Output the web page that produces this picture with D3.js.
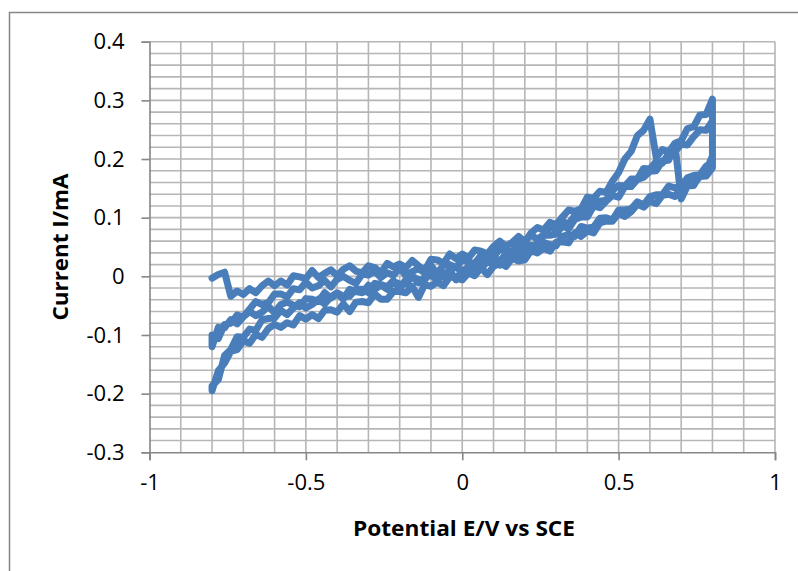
<!DOCTYPE html>
<html>
<head>
<meta charset="utf-8">
<script src="https://cdn.jsdelivr.net/npm/d3@7"></script>
<style>
  html, body { margin: 0; padding: 0; background: #fff; }
  svg { display: block; }
  text { font-family: "Open Sans", "Noto Sans", sans-serif; fill: #000; }
</style>
</head>
<body>
<svg id="chart" width="798" height="571"></svg>
<script>
// Potential grid of the sweep (V vs SCE)
const potential = [-0.80,-0.78,-0.76,-0.74,-0.72,-0.70,-0.68,-0.66,-0.64,-0.62,-0.60,-0.58,-0.56,-0.54,-0.52,-0.50,-0.48,-0.46,-0.44,-0.42,-0.40,-0.38,-0.36,-0.34,-0.32,-0.30,-0.28,-0.26,-0.24,-0.22,-0.20,-0.18,-0.16,-0.14,-0.12,-0.10,-0.08,-0.06,-0.04,-0.02,0.00,0.02,0.04,0.06,0.08,0.10,0.12,0.14,0.16,0.18,0.20,0.22,0.24,0.26,0.28,0.30,0.32,0.34,0.36,0.38,0.40,0.42,0.44,0.46,0.48,0.50,0.52,0.54,0.56,0.58,0.60,0.62,0.64,0.66,0.68,0.70,0.72,0.74,0.76,0.78,0.80];

// Current (mA) at each potential, one array per sweep; reverse sweeps are listed low-to-high potential
const forward1 = [-0.003,0.003,0.007,-0.034,-0.025,-0.031,-0.021,-0.028,-0.016,-0.008,-0.016,-0.008,-0.015,0.001,-0.001,-0.004,0.010,-0.002,0.005,0.011,0.001,0.012,0.018,0.009,0.006,0.018,0.015,0.006,0.022,0.016,0.021,0.015,0.027,0.018,0.010,0.029,0.028,0.022,0.038,0.030,0.038,0.031,0.045,0.043,0.038,0.051,0.060,0.051,0.058,0.068,0.059,0.074,0.083,0.079,0.092,0.088,0.101,0.113,0.111,0.115,0.135,0.133,0.145,0.143,0.162,0.177,0.200,0.213,0.240,0.249,0.268,0.203,0.216,0.212,0.227,0.231,0.252,0.255,0.275,0.276,0.302];
const reverse1 = [-0.120,-0.087,-0.088,-0.074,-0.081,-0.069,-0.060,-0.067,-0.061,-0.051,-0.062,-0.048,-0.044,-0.049,-0.052,-0.038,-0.039,-0.043,-0.028,-0.037,-0.030,-0.039,-0.022,-0.026,-0.028,-0.015,-0.022,-0.015,-0.022,-0.009,-0.013,-0.013,0.000,-0.011,-0.002,0.002,-0.007,0.003,0.010,-0.006,0.011,0.008,0.018,0.012,0.026,0.021,0.019,0.032,0.034,0.031,0.048,0.041,0.049,0.058,0.054,0.052,0.068,0.071,0.068,0.085,0.082,0.084,0.099,0.100,0.096,0.113,0.113,0.115,0.127,0.122,0.136,0.139,0.139,0.154,0.151,0.153,0.168,0.172,0.173,0.188,0.195];
const forward2 = [-0.100,-0.106,-0.082,-0.080,-0.066,-0.069,-0.056,-0.043,-0.048,-0.045,-0.030,-0.030,-0.035,-0.021,-0.023,-0.010,-0.020,-0.016,-0.007,-0.018,-0.005,0.000,-0.007,-0.012,0.004,0.002,0.009,-0.002,0.006,0.002,0.014,0.001,0.008,0.013,0.006,0.018,0.005,0.019,0.020,0.015,0.029,0.024,0.022,0.036,0.037,0.033,0.047,0.043,0.042,0.057,0.059,0.071,0.063,0.071,0.084,0.081,0.094,0.089,0.104,0.113,0.111,0.130,0.128,0.130,0.146,0.155,0.154,0.166,0.166,0.184,0.183,0.196,0.193,0.209,0.212,0.225,0.224,0.238,0.250,0.249,0.265];
const reverse2 = [-0.195,-0.161,-0.148,-0.128,-0.125,-0.110,-0.114,-0.099,-0.104,-0.089,-0.082,-0.087,-0.079,-0.083,-0.067,-0.073,-0.065,-0.072,-0.058,-0.057,-0.061,-0.047,-0.060,-0.044,-0.043,-0.045,-0.030,-0.039,-0.039,-0.026,-0.026,-0.028,-0.017,-0.036,-0.014,-0.017,-0.010,-0.016,-0.001,-0.003,-0.006,0.006,0.001,0.015,0.003,0.017,0.023,0.017,0.031,0.026,0.028,0.044,0.040,0.048,0.043,0.058,0.059,0.057,0.074,0.068,0.077,0.074,0.091,0.094,0.094,0.107,0.102,0.110,0.123,0.118,0.128,0.124,0.138,0.140,0.136,0.151,0.159,0.158,0.170,0.171,0.185];
const forward3 = [-0.187,-0.176,-0.135,-0.125,-0.103,-0.104,-0.090,-0.092,-0.074,-0.072,-0.071,-0.058,-0.065,-0.054,-0.045,-0.054,-0.048,-0.039,-0.047,-0.035,-0.028,-0.034,-0.034,-0.022,-0.022,-0.028,-0.012,-0.014,-0.018,-0.007,-0.022,-0.005,0.000,-0.006,-0.006,0.007,0.003,-0.001,0.009,0.017,0.006,0.017,0.015,0.026,0.023,0.034,0.025,0.039,0.042,0.040,0.056,0.052,0.054,0.070,0.070,0.072,0.086,0.081,0.097,0.101,0.101,0.120,0.117,0.128,0.138,0.135,0.153,0.153,0.165,0.169,0.179,0.180,0.197,0.198,0.225,0.132,0.154,0.155,0.173,0.180,0.205];

// Sweeps in recording order; true = potential decreasing
const sweeps = [[forward1,false],[reverse1,true],[forward2,false],[reverse2,true],[forward3,false]];

const xTicks = [-1,-0.5,0,0.5,1];
const yTicks = [-0.3,-0.2,-0.1,0,0.1,0.2,0.3,0.4];
const xGrid = [-1,-0.9,-0.8,-0.7,-0.6,-0.5,-0.4,-0.3,-0.2,-0.1,0,0.1,0.2,0.3,0.4,0.5,0.6,0.7,0.8,0.9,1];
const yGrid = [-0.3,-0.28,-0.26,-0.24,-0.22,-0.2,-0.18,-0.16,-0.14,-0.12,-0.1,-0.08,-0.06,-0.04,-0.02,0,0.02,0.04,0.06,0.08,0.1,0.12,0.14,0.16,0.18,0.2,0.22,0.24,0.26,0.28,0.3,0.32,0.34,0.36,0.38,0.4];

const xLabel = "Potential E/V vs SCE";
const yLabel = "Current I/mA";

const svg = d3.select("#chart");
const plot = { left: 149.5, right: 775, top: 41.7, bottom: 452.3 };

const x = d3.scaleLinear().domain([-1, 1]).range([plot.left, plot.right]);
const y = d3.scaleLinear().domain([-0.3, 0.4]).range([plot.bottom, plot.top]);

// plain hyphen-minus tick labels
const fmt = d => String(d);

// chart area frame
svg.append("rect")
  .attr("x", 9.5).attr("y", 12.5)
  .attr("width", 900).attr("height", 700)
  .attr("fill", "#fff").attr("stroke", "#868686").attr("stroke-width", 1.5);

// gridlines
const grid = svg.append("g").attr("stroke", "#b6b6b6").attr("stroke-width", 1.6);
grid.selectAll("line.v").data(xGrid.filter(d => d > -1)).join("line")
  .attr("x1", d => x(d)).attr("x2", d => x(d))
  .attr("y1", plot.top).attr("y2", plot.bottom);
grid.selectAll("line.h").data(yGrid.filter(d => d > -0.3)).join("line")
  .attr("x1", plot.left).attr("x2", plot.right)
  .attr("y1", d => y(d)).attr("y2", d => y(d));

// axes
const xAxis = d3.axisBottom(x).tickValues(xTicks).tickSize(8).tickPadding(14).tickFormat(fmt);
const yAxis = d3.axisLeft(y).tickValues(yTicks).tickSize(8).tickPadding(17).tickFormat(fmt);

const gx = svg.append("g").attr("transform", `translate(0,${plot.bottom})`).call(xAxis);
const gy = svg.append("g").attr("transform", `translate(${plot.left},0)`).call(yAxis);
[gx, gy].forEach(g => {
  g.select(".domain").attr("stroke", "#868686").attr("stroke-width", 1.6);
  g.selectAll(".tick line").attr("stroke", "#868686").attr("stroke-width", 1.6);
  g.selectAll(".tick text").style("font-family", '"Open Sans", sans-serif')
    .style("font-size", "22px").attr("fill", "#000");
});
gx.selectAll(".tick text").attr("dy", "0.71em");

// the voltammogram
const pts = [];
sweeps.forEach(([vals, rev]) => {
  const idx = potential.map((_, i) => i);
  if (rev) idx.reverse();
  idx.forEach(i => pts.push([potential[i], vals[i]]));
});
const line = d3.line().x(d => x(d[0])).y(d => y(d[1]));
svg.append("path")
  .datum(pts)
  .attr("d", line)
  .attr("fill", "none")
  .attr("stroke", "#4a7ebb")
  .attr("stroke-width", 7)
  .attr("stroke-linejoin", "round")
  .attr("stroke-linecap", "round");

// axis titles
svg.append("text")
  .attr("x", 464).attr("y", 536)
  .attr("text-anchor", "middle")
  .attr("font-weight", "bold").attr("font-size", 22)
  .attr("textLength", 222).attr("lengthAdjust", "spacingAndGlyphs")
  .text(xLabel);

svg.append("text")
  .attr("transform", "translate(68,247) rotate(-90)")
  .attr("text-anchor", "middle")
  .attr("font-weight", "bold").attr("font-size", 22)
  .attr("textLength", 147).attr("lengthAdjust", "spacingAndGlyphs")
  .text(yLabel);
</script>
</body>
</html>
